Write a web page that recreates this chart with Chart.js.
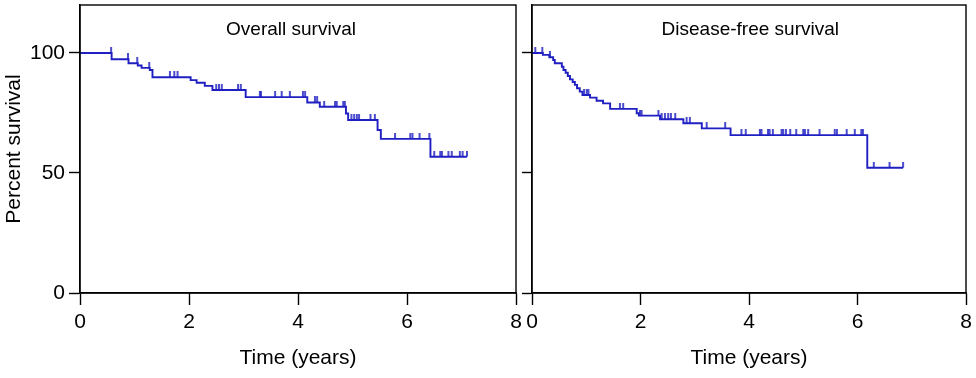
<!DOCTYPE html>
<html>
<head>
<meta charset="utf-8">
<script src="https://cdn.jsdelivr.net/npm/chart.js@4.4.1/dist/chart.umd.min.js"></script>
<style>
  html, body { margin: 0; padding: 0; background: #fff; }
  #wrap { position: relative; width: 976px; height: 378px; }
  #boxOS { position: absolute; left: 0; top: 0; width: 522px; height: 378px; }
  #boxDFS { position: absolute; left: 522px; top: 0; width: 454px; height: 378px; }
</style>
</head>
<body>
<div id="wrap">
  <div id="boxOS"><canvas id="chartOS"></canvas></div>
  <div id="boxDFS"><canvas id="chartDFS"></canvas></div>
</div>
<script>
// datos (tiempo en años, % supervivencia)
const osTimes = [0, 0.58, 0.89, 1.06, 1.13, 1.28, 1.33, 2.03, 2.14, 2.29, 2.43, 3.04, 4.17, 4.40, 4.88, 4.92, 5.46, 5.52, 6.43, 7.10];
const osSurv  = [100, 97.4, 95.7, 94.8, 93.8, 92.9, 89.9, 88.7, 87.6, 86.3, 84.6, 81.6, 79.4, 77.6, 74.8, 72.1, 67.9, 64.2, 56.8, 56.8];
const osCensor = [0.57, 0.88, 1.05, 1.27, 1.65, 1.73, 1.79, 2.50, 2.55, 2.60, 2.90, 2.95, 3.30, 3.32, 3.58, 3.70, 3.85,
  4.09, 4.13, 4.31, 4.35, 4.48, 4.68, 4.71, 4.83, 4.86, 4.98, 5.03, 5.08, 5.12, 5.33, 5.41, 5.78, 6.06, 6.10, 6.23, 6.41,
  6.50, 6.61, 6.64, 6.76, 6.82, 6.97, 7.02, 7.10];

const dfsTimes = [0, 0.20, 0.32, 0.39, 0.42, 0.55, 0.58, 0.62, 0.66, 0.70, 0.75, 0.79, 0.83, 0.88, 0.93, 1.07, 1.19, 1.31, 1.44,
  1.93, 1.97, 2.36, 2.79, 3.13, 3.66, 6.18, 6.84];
const dfsSurv  = [100, 99.2, 98.2, 97.1, 95.7, 94.3, 92.9, 91.8, 90.4, 89.0, 87.9, 86.7, 85.3, 83.9, 82.5, 81.4, 80.1, 79.0, 76.7,
  74.9, 73.9, 72.4, 70.7, 68.6, 65.8, 52.2, 52.2];
const dfsCensor = [0.06, 0.19, 0.33, 0.96, 1.01, 1.04, 1.62, 1.68, 1.99, 2.02, 2.33, 2.39, 2.45, 2.51, 2.56, 2.64, 2.85, 2.91,
  3.22, 3.56, 3.86, 3.94, 4.20, 4.23, 4.35, 4.38, 4.44, 4.60, 4.63, 4.68, 4.76, 4.87, 5.00, 5.03, 5.09, 5.30, 5.58, 5.62,
  5.80, 5.95, 6.07, 6.10, 6.30, 6.59, 6.84];

const xTicks = [0, 2, 4, 6, 8];
const yTicks = [0, 50, 100];

const AZUL = "#1f1fc2";
const FUENTE = "'Liberation Sans', Arial, sans-serif";

function nivelEn(times, surv, t) {
  let v = surv[0];
  for (let i = 0; i < times.length; i++) {
    if (times[i] <= t) v = surv[i];
  }
  return v;
}

// marca de censura: raya vertical que sube desde la curva
function marcaCensura() {
  const c = document.createElement("canvas");
  c.width = 4;
  c.height = 12;
  const g = c.getContext("2d");
  g.strokeStyle = AZUL;
  g.lineWidth = 1.6;
  g.beginPath();
  g.moveTo(2, 0);
  g.lineTo(2, 6);
  g.stroke();
  return c;
}

const marco = {
  id: "marco",
  afterDraw(chart, args, opts) {
    const a = chart.chartArea;
    const ctx = chart.ctx;
    ctx.save();
    ctx.strokeStyle = "#000";
    ctx.lineWidth = 1.4;
    ctx.strokeRect(a.left, a.top, a.right - a.left, a.bottom - a.top);
    ctx.fillStyle = "#000";
    ctx.font = "19px " + FUENTE;
    ctx.textAlign = "center";
    ctx.textBaseline = "middle";
    ctx.fillText(opts.texto, a.left + (a.right - a.left) * opts.fx, a.top + 25);
    ctx.restore();
  }
};

function crearKM(id, times, surv, censor, conEtiquetas, titulo, fx, padRight) {
  const linea = [];
  for (let i = 0; i < times.length; i++) linea.push({ x: times[i], y: surv[i] });
  const marcas = [];
  for (let i = 0; i < censor.length; i++) marcas.push({ x: censor[i], y: nivelEn(times, surv, censor[i]) });

  const img = marcaCensura();

  return new Chart(document.getElementById(id), {
    type: "scatter",
    data: {
      datasets: [
        { data: linea, showLine: true, stepped: "before", borderColor: AZUL, borderWidth: 1.9, pointRadius: 0, fill: false },
        { data: marcas, showLine: false, pointStyle: img, pointRadius: 3, borderColor: AZUL, backgroundColor: AZUL }
      ]
    },
    plugins: [marco],
    options: {
      responsive: true,
      maintainAspectRatio: false,
      animation: false,
      layout: { padding: { top: 5, right: padRight, bottom: 0, left: 0 } },
      plugins: {
        legend: { display: false },
        tooltip: { enabled: false },
        marco: { texto: titulo, fx: fx }
      },
      scales: {
        x: {
          type: "linear",
          min: 0, max: 8,
          afterBuildTicks: function (s) { s.ticks = xTicks.map(v => ({ value: v })); },
          afterFit: function (s) { s.height = 85; s.paddingLeft = 0; s.paddingRight = 0; },
          grid: { drawOnChartArea: false, tickLength: 12, color: "#000", tickWidth: 1.4 },
          border: { color: "#000", width: 1.4 },
          ticks: { color: "#000", font: { size: 21, family: FUENTE }, padding: 5, maxRotation: 0 },
          title: { display: true, text: "Time (years)", color: "#000", font: { size: 21, family: FUENTE }, padding: { bottom: 7 } }
        },
        y: {
          type: "linear",
          min: 0, max: 120,
          afterBuildTicks: function (s) { s.ticks = yTicks.map(v => ({ value: v })); },
          afterFit: function (s) { s.width = conEtiquetas ? 80 : 10; s.paddingTop = 0; s.paddingBottom = 0; },
          grid: { drawOnChartArea: false, tickLength: conEtiquetas ? 11 : 10, color: "#000", tickWidth: 1.4 },
          border: { color: "#000", width: 1.4 },
          ticks: { color: conEtiquetas ? "#000" : "rgba(0,0,0,0)", font: { size: 21, family: FUENTE }, padding: 4 },
          title: { display: conEtiquetas, text: "Percent survival", color: "#000", font: { size: 21, family: FUENTE }, padding: { top: 2 } }
        }
      }
    }
  });
}

crearKM("chartOS", osTimes, osSurv, osCensor, true, "Overall survival", 0.484, 6);
crearKM("chartDFS", dfsTimes, dfsSurv, dfsCensor, false, "Disease-free survival", 0.503, 10);
</script>
</body>
</html>
